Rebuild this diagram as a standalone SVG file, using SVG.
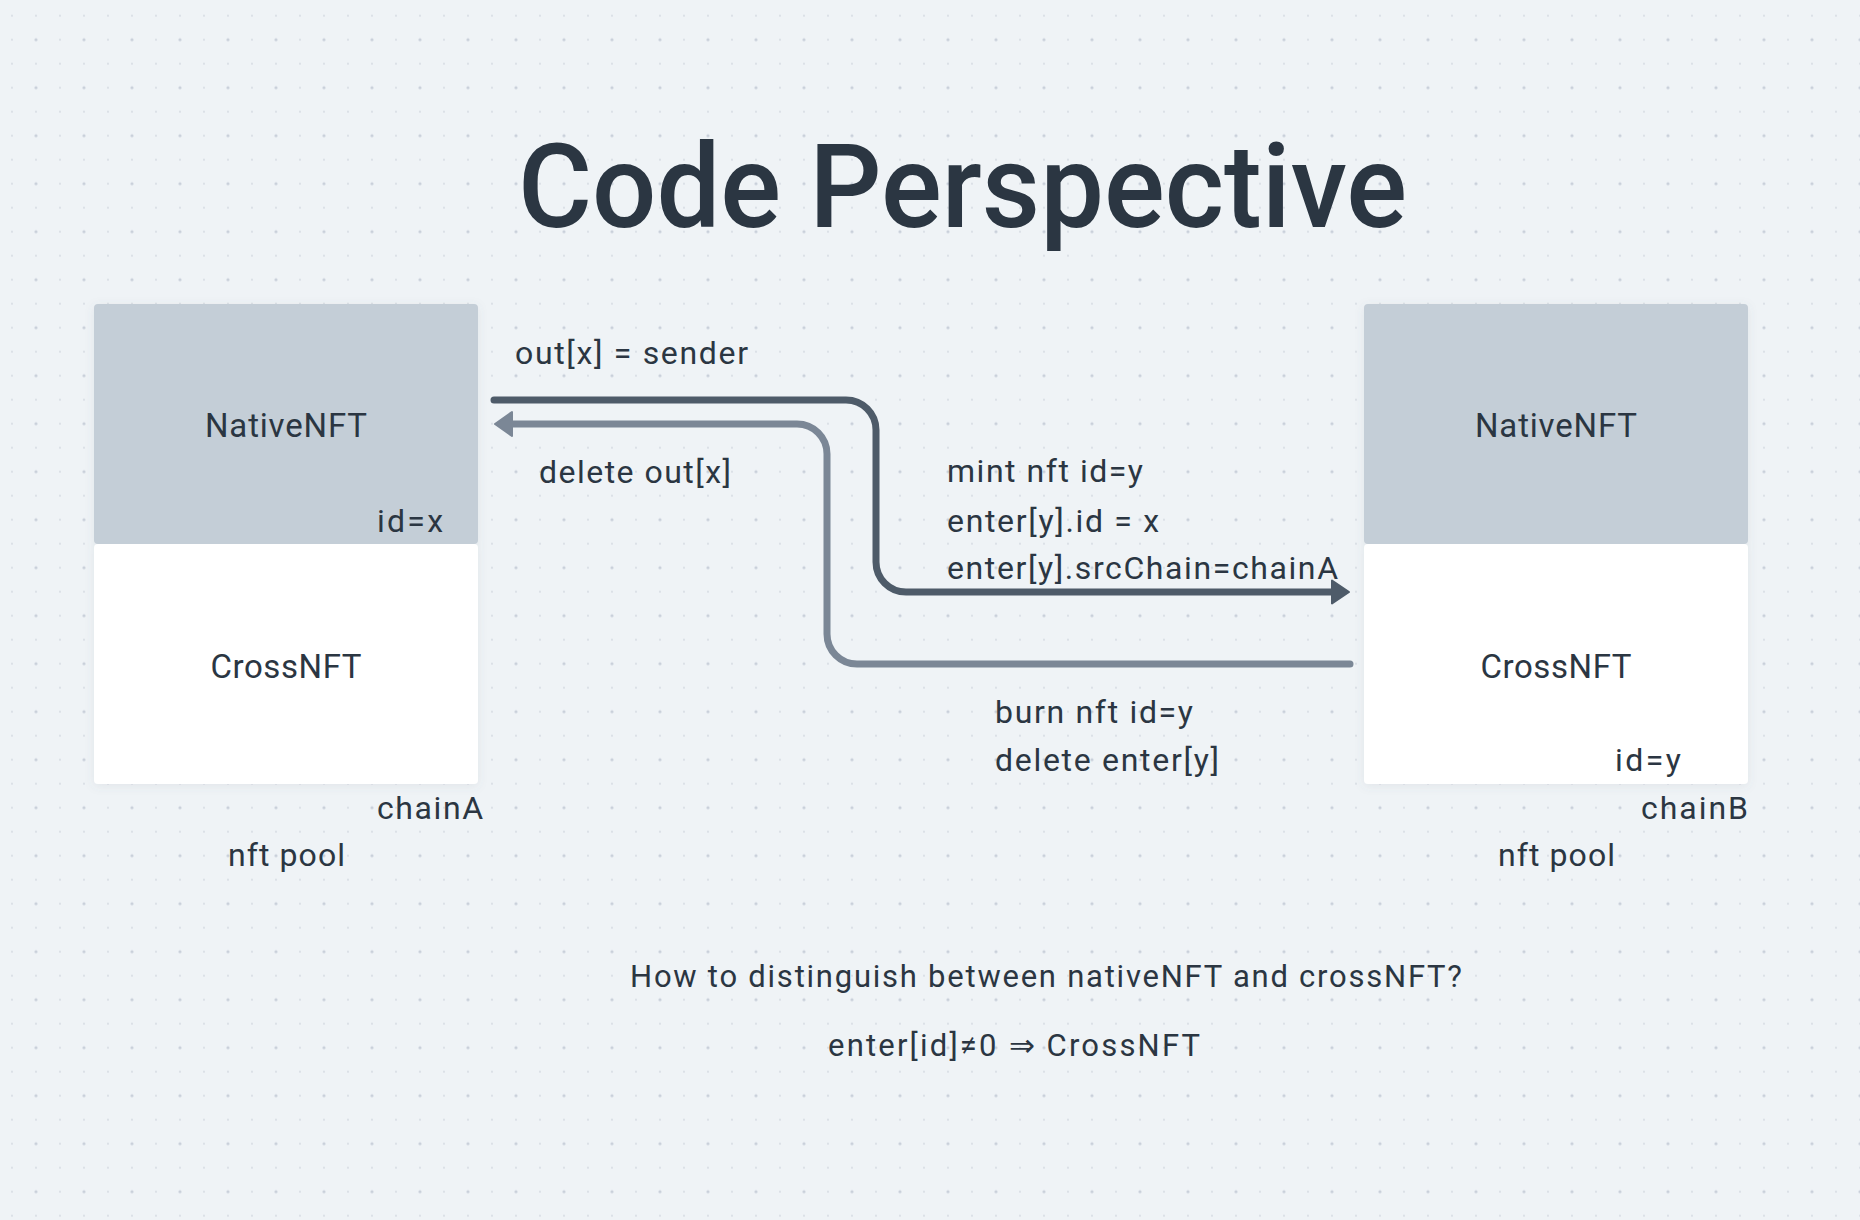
<svg xmlns="http://www.w3.org/2000/svg" width="1860" height="1220" viewBox="0 0 1860 1220">
  <style>
    text { font-family: Roboto, "Liberation Sans", sans-serif; fill: #2b3642; }
    .title { font-size: 117px; font-weight: 500; }
    .box-label { font-size: 33px; text-anchor: middle; }
    .lbl { font-size: 32px; }
    .note { font-size: 31px; }
    .native { fill: #c4ced7; }
    .cross { fill: #ffffff; }
    .dark { fill: none; stroke: #4e5b69; stroke-width: 7; stroke-linecap: round; stroke-linejoin: round; }
    .light { fill: none; stroke: #7b8796; stroke-width: 7; stroke-linecap: round; stroke-linejoin: round; }
  </style>
  <defs>
    <pattern id="dots" patternUnits="userSpaceOnUse" x="0" y="3.7" width="48" height="48">
      <circle cx="12" cy="12" r="0.9" fill="#d2d8e0"/>
      <circle cx="36" cy="12" r="0.9" fill="#d2d8e0"/>
      <circle cx="12" cy="36" r="0.9" fill="#d2d8e0"/>
      <circle cx="36" cy="36" r="1.6" fill="#c9d0da"/>
    </pattern>
    <filter id="shadow" x="-10%" y="-10%" width="120%" height="120%">
      <feDropShadow dx="0" dy="2" stdDeviation="5" flood-color="#5a6a7a" flood-opacity="0.10"/>
    </filter>
    <marker id="arrow-dark" markerUnits="userSpaceOnUse" viewBox="0 -14 22 28" markerWidth="22" markerHeight="28" refX="2" refY="0" orient="auto">
      <path d="M1,-11.5 L18,0 L1,11.5 Z" fill="#4e5b69" stroke="#4e5b69" stroke-width="2" stroke-linejoin="round"/>
    </marker>
    <marker id="arrow-light" markerUnits="userSpaceOnUse" viewBox="0 -14 22 28" markerWidth="22" markerHeight="28" refX="2" refY="0" orient="auto">
      <path d="M1,-12 L18,0 L1,12 Z" fill="#7b8796" stroke="#7b8796" stroke-width="2" stroke-linejoin="round"/>
    </marker>
  </defs>

  <rect x="0" y="0" width="1860" height="1220" fill="#eff3f6"/>
  <rect x="0" y="0" width="1860" height="1220" fill="url(#dots)"/>

  <g id="title">
    <text class="title" x="518" y="227" textLength="889" lengthAdjust="spacingAndGlyphs">Code Perspective</text>
  </g>

  <g id="node-chainA">
    <g filter="url(#shadow)">
      <rect class="native" x="94" y="304" width="384" height="240" rx="4"/>
      <rect class="cross" x="94" y="544" width="384" height="240" rx="4"/>
    </g>
    <text class="box-label" x="286" y="437" textLength="162">NativeNFT</text>
    <text class="lbl" x="377" y="532" textLength="66">id=x</text>
    <text class="box-label" x="286" y="678" textLength="151">CrossNFT</text>
    <text class="lbl" x="377" y="819" textLength="106">chainA</text>
    <text class="lbl" x="228" y="866" textLength="117">nft pool</text>
  </g>

  <g id="node-chainB">
    <g filter="url(#shadow)">
      <rect class="native" x="1364" y="304" width="384" height="240" rx="4"/>
      <rect class="cross" x="1364" y="544" width="384" height="240" rx="4"/>
    </g>
    <text class="box-label" x="1556" y="437" textLength="162">NativeNFT</text>
    <text class="box-label" x="1556" y="678" textLength="151">CrossNFT</text>
    <text class="lbl" x="1615" y="771" textLength="66">id=y</text>
    <text class="lbl" x="1641" y="819" textLength="107">chainB</text>
    <text class="lbl" x="1498" y="866" textLength="117">nft pool</text>
  </g>

  <g id="connectors">
    <path id="mint-flow" class="dark" d="M494,400 H846 A30,30 0 0 1 876,430 V562 A30,30 0 0 0 906,592 H1333" marker-end="url(#arrow-dark)"/>
    <path id="burn-flow" class="light" d="M1350,664 H857 A30,30 0 0 1 827,634 V454 A30,30 0 0 0 797,424 H511" marker-end="url(#arrow-light)"/>
  </g>

  <g id="labels">
    <text class="lbl" x="515" y="364" textLength="233">out[x] = sender</text>
    <text class="lbl" x="539" y="483" textLength="192">delete out[x]</text>
    <text class="lbl" x="947" y="482" textLength="196">mint nft id=y</text>
    <text class="lbl" x="947" y="532" textLength="212">enter[y].id = x</text>
    <text class="lbl" x="947" y="579" textLength="391">enter[y].srcChain=chainA</text>
    <text class="lbl" x="995" y="723" textLength="198">burn nft id=y</text>
    <text class="lbl" x="995" y="771" textLength="224">delete enter[y]</text>
  </g>

  <g id="notes">
    <text class="note" x="630" y="987" textLength="832">How to distinguish between nativeNFT and crossNFT?</text>
    <text class="note" x="828" y="1056" textLength="372">enter[id]≠0 ⇒ CrossNFT</text>
  </g>
</svg>
